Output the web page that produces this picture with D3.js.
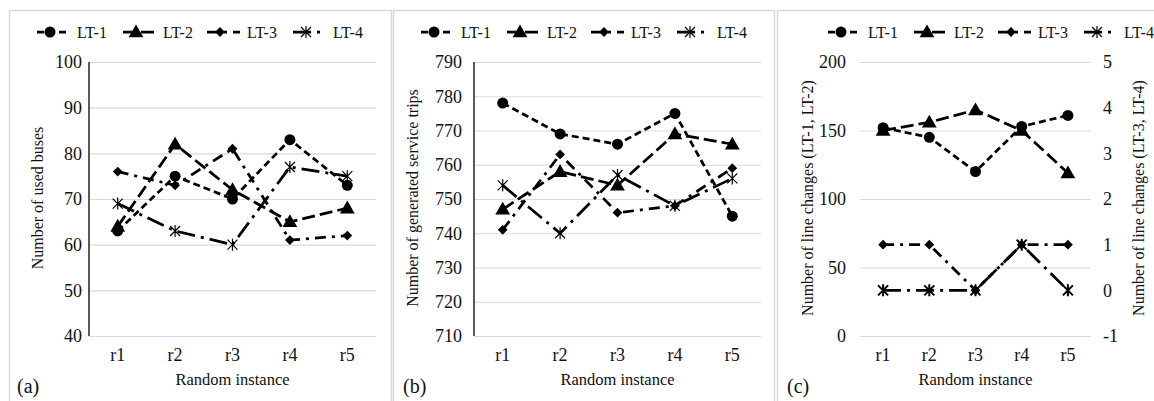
<!DOCTYPE html>
<html>
<head>
<meta charset="utf-8">
<script src="https://cdn.jsdelivr.net/npm/d3@7"></script>
<style>
  body { margin: 0; background: #fff; }
  svg, svg text { font-family: "Liberation Serif", "Times New Roman", "DejaVu Serif", serif !important; }
  svg text { fill: #111; }
</style>
</head>
<body>
<div id="chart"></div>
<script>
// categories and series
var categories = ["r1", "r2", "r3", "r4", "r5"];
var seriesNames = ["LT-1", "LT-2", "LT-3", "LT-4"];

// (a) number of used buses
var busesLT1 = [63, 75, 70, 83, 73];
var busesLT2 = [64, 82, 72, 65, 68];
var busesLT3 = [76, 73, 81, 61, 62];
var busesLT4 = [69, 63, 60, 77, 75];
var busesTicks = [40, 50, 60, 70, 80, 90, 100];

// (b) number of generated service trips
var tripsLT1 = [778, 769, 766, 775, 745];
var tripsLT2 = [747, 758, 754, 769, 766];
var tripsLT3 = [741, 763, 746, 748, 759];
var tripsLT4 = [754, 740, 757, 748, 756];
var tripsTicks = [710, 720, 730, 740, 750, 760, 770, 780, 790];

// (c) number of line changes (LT-1, LT-2 left axis; LT-3, LT-4 right axis)
var changesLT1 = [152, 145, 120, 153, 161];
var changesLT2 = [150, 156, 165, 150, 119];
var changesLT3 = [1, 1, 0, 1, 1];
var changesLT4 = [0, 0, 0, 1, 0];
var changesTicks = [0, 50, 100, 150, 200];
var changesTicksRight = [-1, 0, 1, 2, 3, 4, 5];

var W = 1154, H = 401;
var FONT = "'Liberation Serif', 'Times New Roman', 'DejaVu Serif', serif";
var dashes = ["7,4", "13,5", "11,6,3,6", "18,6,3,6"];
var markers = ["circle", "triangle", "diamond", "star"];
var fmt = function(d) { return String(d); };   // plain hyphen for -1

var svg = d3.select("#chart").append("svg")
    .attr("width", W)
    .attr("height", H)
    .attr("font-family", FONT);
svg.append("rect").attr("width", W).attr("height", H).attr("fill", "#fff");

// panel borders
[[9, 10, 382, 400], [393, 10, 381, 400], [777, 10, 390, 400]].forEach(function(b) {
  svg.append("rect")
    .attr("x", b[0] + 0.5).attr("y", b[1] + 0.5)
    .attr("width", b[2]).attr("height", b[3])
    .attr("fill", "none")
    .attr("stroke", "#d9d9d9")
    .attr("stroke-width", 1.5);
});

function drawMarker(g, type, x, y, big) {
  if (type == "circle") {
    g.append("circle").attr("cx", x).attr("cy", y).attr("r", 5.5).attr("fill", "#000");
  } else if (type == "triangle") {
    g.append("path")
      .attr("d", d3.symbol().type(d3.symbolTriangle).size(95)())
      .attr("transform", "translate(" + x + "," + (y + 1) + ")")
      .attr("fill", "#000");
  } else if (type == "diamond") {
    g.append("path")
      .attr("d", d3.symbol().type(d3.symbolSquare).size(48)())
      .attr("transform", "translate(" + x + "," + y + ") rotate(45)")
      .attr("fill", "#000");
  } else {
    var r = 5;
    var p = "M" + (x - r) + "," + (y - r) + "L" + (x + r) + "," + (y + r) +
            "M" + (x - r) + "," + (y + r) + "L" + (x + r) + "," + (y - r) +
            "M" + x + "," + (y - r - 1) + "L" + x + "," + (y + r + 1);
    g.append("path").attr("d", p)
      .attr("stroke", "#000")
      .attr("stroke-width", big ? 2 : 1.2)
      .attr("fill", "none");
  }
}

function styleText(s, size) {
  s.selectAll("text")
    .attr("fill", "#111")
    .style("font-size", size + "px")
    .style("font-family", FONT);
}

function drawLegend(g, x0, y) {
  var offs = [0, 86, 170, 256];
  seriesNames.forEach(function(name, i) {
    var x = x0 + offs[i];
    g.append("line")
      .attr("x1", x).attr("x2", x + 33)
      .attr("y1", y).attr("y2", y)
      .attr("stroke", "#000")
      .attr("stroke-width", 2.75)
      .attr("stroke-dasharray", dashes[i]);
    drawMarker(g, markers[i], x + 13, y, false);
    g.append("text")
      .attr("x", x + 40)
      .attr("y", y + 5.5)
      .style("font-size", "16px")
      .style("font-family", FONT)
      .text(name);
  });
}

function drawPanel(opt) {
  var g = svg.append("g");
  var x = d3.scaleBand().domain(categories).range([opt.left, opt.right]);
  var y = d3.scaleLinear().domain(opt.domain).range([336, 62]);

  // gridlines
  g.append("g")
    .attr("transform", "translate(" + opt.left + ",0)")
    .call(d3.axisLeft(y).tickValues(opt.ticks).tickSize(-(opt.right - opt.left)).tickFormat(""))
    .call(function(s) {
      s.select(".domain").remove();
      s.selectAll("line").attr("stroke", "#d9d9d9").attr("stroke-width", 1.2);
    });

  // y tick labels
  g.append("g")
    .attr("transform", "translate(" + opt.left + ",0)")
    .call(d3.axisLeft(y).tickValues(opt.ticks).tickSize(0).tickPadding(opt.labelPad).tickFormat(fmt))
    .call(function(s) { s.select(".domain").remove(); styleText(s, 18); });

  if (opt.axisLine) {
    g.append("line")
      .attr("x1", opt.left).attr("x2", opt.left)
      .attr("y1", 62).attr("y2", 336)
      .attr("stroke", "#000").attr("stroke-width", 1.3);
  }

  // x tick labels
  g.append("g")
    .attr("transform", "translate(0,336)")
    .call(d3.axisBottom(x).tickSize(0).tickPadding(12))
    .call(function(s) { s.select(".domain").remove(); styleText(s, 18); });

  var y2 = null;
  if (opt.domainRight) {
    y2 = d3.scaleLinear().domain(opt.domainRight).range([336, 62]);
    g.append("g")
      .attr("transform", "translate(" + opt.right + ",0)")
      .call(d3.axisRight(y2).tickValues(opt.ticksRight).tickSize(0).tickPadding(12).tickFormat(fmt))
      .call(function(s) { s.select(".domain").remove(); styleText(s, 18); });
  }

  // series lines and markers
  opt.series.forEach(function(vals, i) {
    var sc = (y2 && opt.rightSeries.indexOf(i) >= 0) ? y2 : y;
    var line = d3.line()
      .x(function(d, j) { return x(categories[j]) + x.bandwidth() / 2; })
      .y(function(d) { return sc(d); });
    g.append("path")
      .datum(vals)
      .attr("d", line)
      .attr("fill", "none")
      .attr("stroke", "#000")
      .attr("stroke-width", 2.75)
      .attr("stroke-dasharray", dashes[i]);
  });
  opt.series.forEach(function(vals, i) {
    var sc = (y2 && opt.rightSeries.indexOf(i) >= 0) ? y2 : y;
    vals.forEach(function(d, j) {
      drawMarker(g, markers[i], x(categories[j]) + x.bandwidth() / 2, sc(d), !!y2);
    });
  });

  // axis titles
  g.append("text")
    .attr("transform", "translate(" + opt.titleX + ",198) rotate(-90)")
    .attr("text-anchor", "middle")
    .style("font-size", "16px")
    .style("font-family", FONT)
    .text(opt.title);
  if (opt.titleRight) {
    g.append("text")
      .attr("transform", "translate(" + opt.titleRightX + ",198) rotate(-90)")
      .attr("text-anchor", "middle")
      .style("font-size", "16px")
      .style("font-family", FONT)
      .text(opt.titleRight);
  }
  g.append("text")
    .attr("x", (opt.left + opt.right) / 2)
    .attr("y", 385)
    .attr("text-anchor", "middle")
    .style("font-size", "16.5px")
    .style("font-family", FONT)
    .text("Random instance");
  g.append("text")
    .attr("x", opt.tagX)
    .attr("y", 393)
    .style("font-size", "20px")
    .style("font-family", FONT)
    .text(opt.tag);

  drawLegend(g, opt.legendX, 32);
}

drawPanel({
  left: 89, right: 376, domain: [40, 100], ticks: busesTicks, labelPad: 7, axisLine: true,
  series: [busesLT1, busesLT2, busesLT3, busesLT4],
  title: "Number of used buses", titleX: 43, tag: "(a)", tagX: 17, legendX: 37
});

drawPanel({
  left: 474, right: 761, domain: [710, 790], ticks: tripsTicks, labelPad: 12, axisLine: true,
  series: [tripsLT1, tripsLT2, tripsLT3, tripsLT4],
  title: "Number of generated service trips", titleX: 418, tag: "(b)", tagX: 403, legendX: 421
});

drawPanel({
  left: 860, right: 1091, domain: [0, 200], ticks: changesTicks, labelPad: 14, axisLine: false,
  domainRight: [-1, 5], ticksRight: changesTicksRight, rightSeries: [2, 3],
  series: [changesLT1, changesLT2, changesLT3, changesLT4],
  title: "Number of line changes (LT-1, LT-2)", titleX: 813,
  titleRight: "Number of line changes (LT-3, LT-4)", titleRightX: 1144,
  tag: "(c)", tagX: 787, legendX: 828
});
</script>
</body>
</html>
